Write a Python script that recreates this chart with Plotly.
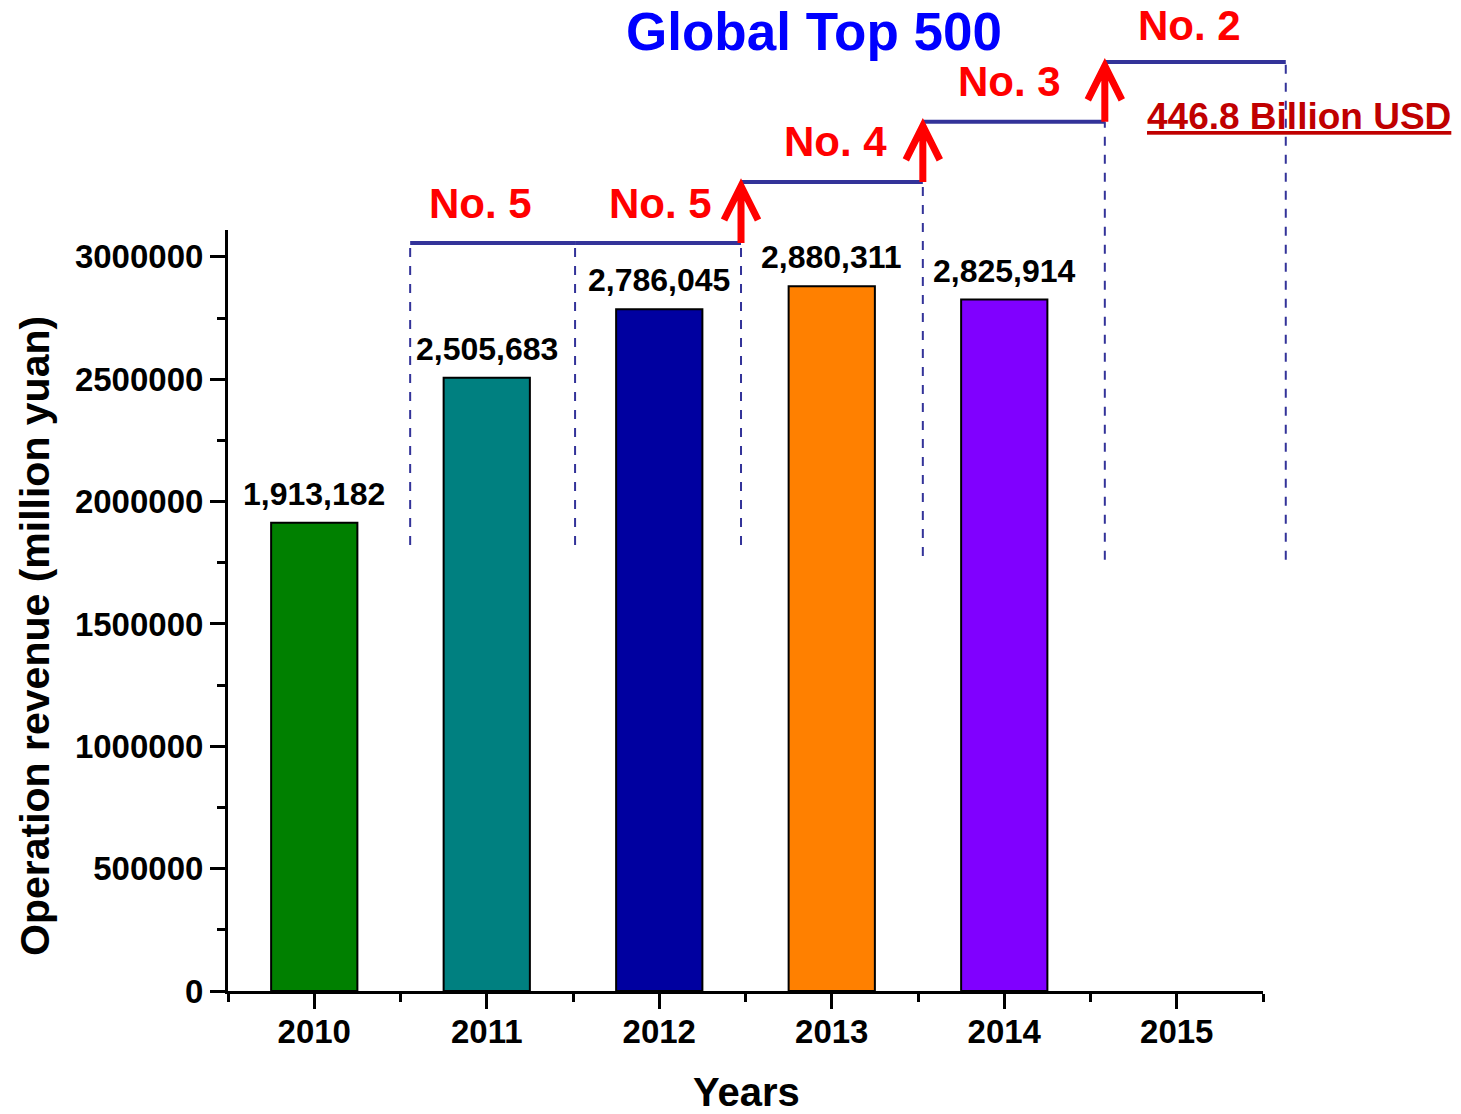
import plotly.graph_objects as go

# ---------------- data ----------------
years = [2010, 2011, 2012, 2013, 2014, 2015]
year_labels = ["2010", "2011", "2012", "2013", "2014", "2015"]
bar_years = [2010, 2011, 2012, 2013, 2014]
revenue = [1913182, 2505683, 2786045, 2880311, 2825914]
bar_colors = ["#008000", "#008080", "#0000A0", "#FF8000", "#8000FF"]
rank_years = [2011, 2012, 2013, 2014, 2015]
rank_labels = ["No. 5", "No. 5", "No. 4", "No. 3", "No. 2"]
y_tickvals = [0, 500000, 1000000, 1500000, 2000000, 2500000, 3000000]
y_ticktext = ["0", "500000", "1000000", "1500000", "2000000", "2500000", "3000000"]
note_text = "446.8 Billion USD"
title_text = "Global Top 500"
x_title = "Years"
y_title = "Operation revenue (million yuan)"

# ---------------- layout constants (positions / styles) ----------------
PAGE_OFF = 8  # default body margin of the html page
W, H = 1461 - PAGE_OFF, 1114 - PAGE_OFF
M_L, M_R, M_T, M_B = 228 - PAGE_OFF, 198, 230 - PAGE_OFF, 123
PLOT_W = W - M_L - M_R
PLOT_H = H - M_T - M_B
X_RANGE = [2009.5, 2015.5]
Y_RANGE = [0, 3110000]
FONT = "Liberation Sans, Arial, sans-serif"
STEP_COLOR = "#333399"
ARROW_COLOR = "#FF0000"

# step (ranking) decoration geometry in data units
seg_bounds = [2010.556, 2011.512, 2012.474, 2013.528, 2014.583, 2015.632]
seg_levels = [3057000, 3057000, 3306000, 3552000, 3797000]
dash_bottoms = [1823000, 1823000, 1823000, 1778000, 1762000, 1762000]
rank_label_x = [2010.962, 2012.010, 2013.019, 2014.032, 2015.075]
rank_label_gap = [14, 14, 15, 15, 11]  # px between segment and label box
note_pos = (2015.71, 3572000)
ARROW_HALF_W = 17   # px
ARROW_HEAD_L = 34   # px
ARROW_LW = 7


def px(x):
    return (x - X_RANGE[0]) / (X_RANGE[1] - X_RANGE[0])


def py(y):
    return (y - Y_RANGE[0]) / (Y_RANGE[1] - Y_RANGE[0])


fig = go.Figure()
fig.add_trace(
    go.Bar(
        x=bar_years,
        y=revenue,
        width=0.5,
        marker=dict(color=bar_colors, line=dict(color="black", width=2)),
        hoverinfo="skip",
    )
)

shapes = []
annotations = []

# value labels above bars
for yr, v in zip(bar_years, revenue):
    annotations.append(
        dict(
            xref="x", yref="y", x=yr, y=v, text=f"{v:,}", showarrow=False,
            xanchor="center", yanchor="bottom", yshift=9,
            font=dict(family=FONT, size=32, color="black", weight="bold"),
        )
    )

# horizontal step segments + rank labels
for i in range(len(rank_years)):
    shapes.append(
        dict(
            type="line", xref="paper", yref="paper",
            x0=px(seg_bounds[i]), x1=px(seg_bounds[i + 1]),
            y0=py(seg_levels[i]), y1=py(seg_levels[i]),
            line=dict(color=STEP_COLOR, width=4),
        )
    )
    annotations.append(
        dict(
            xref="paper", yref="paper",
            x=px(rank_label_x[i]), y=py(seg_levels[i]),
            text=rank_labels[i], showarrow=False,
            xanchor="center", yanchor="bottom", yshift=rank_label_gap[i],
            font=dict(family=FONT, size=42, color="#FF0000", weight="bold"),
        )
    )

# dashed verticals
for k, b in enumerate(seg_bounds):
    top = seg_levels[0] if k == 0 else seg_levels[k - 1]
    shapes.append(
        dict(
            type="line", xref="paper", yref="paper",
            x0=px(b), x1=px(b), y0=py(dash_bottoms[k]), y1=py(top),
            line=dict(color=STEP_COLOR, width=2, dash="dash"),
        )
    )

# red arrows at rank improvements (drawn as paths)
for k in range(1, len(seg_levels)):
    if seg_levels[k] != seg_levels[k - 1]:
        xa = px(seg_bounds[k])
        y_bot = py(seg_levels[k - 1])
        y_tip = py(seg_levels[k]) - 4 / PLOT_H
        dx = ARROW_HALF_W / PLOT_W
        dy = ARROW_HEAD_L / PLOT_H
        path = (
            f"M{xa},{y_bot} L{xa},{y_tip} "
            f"M{xa - dx},{y_tip - dy} L{xa},{y_tip} L{xa + dx},{y_tip - dy}"
        )
        shapes.append(
            dict(
                type="path", xref="paper", yref="paper", path=path,
                line=dict(color=ARROW_COLOR, width=ARROW_LW),
            )
        )

# note
annotations.append(
    dict(
        xref="paper", yref="paper", x=px(note_pos[0]), y=py(note_pos[1]),
        text="<u>" + note_text + "</u>", showarrow=False,
        xanchor="center", yanchor="middle",
        font=dict(family=FONT, size=37, color="#C00000", weight="bold"),
    )
)

# axis titles
annotations.append(
    dict(
        xref="paper", yref="paper",
        x=(35 - 228) / PLOT_W, y=(991 - 636) / PLOT_H,
        text=y_title, textangle=-90, showarrow=False,
        xanchor="center", yanchor="middle",
        font=dict(family=FONT, size=41, color="black", weight="bold"),
    )
)
annotations.append(
    dict(
        xref="paper", yref="paper",
        x=(746 - 228) / PLOT_W, y=(991 - 1092) / PLOT_H,
        text=x_title, showarrow=False,
        xanchor="center", yanchor="middle",
        font=dict(family=FONT, size=40, color="black", weight="bold"),
    )
)

axis_common = dict(
    showline=True, linecolor="black", linewidth=3, mirror=False,
    ticks="outside", ticklen=15, tickwidth=3, tickcolor="black",
    showgrid=False, zeroline=False,
    tickfont=dict(family=FONT, size=33, color="black", weight="bold"),
)

fig.update_layout(
    width=W, height=H,
    margin=dict(l=M_L, r=M_R, t=M_T, b=M_B, autoexpand=False),
    paper_bgcolor="white", plot_bgcolor="white",
    showlegend=False,
    title=dict(
        text=title_text, xref="container", yref="container",
        x=(814 - PAGE_OFF) / W, y=1 - (31 - PAGE_OFF) / H,
        xanchor="center", yanchor="middle",
        font=dict(family=FONT, size=53, color="#0000FF", weight="bold"),
    ),
    xaxis=dict(
        range=X_RANGE, tickmode="array", tickvals=years, ticktext=year_labels,
        minor=dict(tickmode="array", tickvals=[2009.5 + i for i in range(7)],
                   ticks="outside", ticklen=8, tickwidth=3, tickcolor="black"),
        ticklabelstandoff=-6,
        **axis_common,
    ),
    yaxis=dict(
        range=Y_RANGE, tickmode="array", tickvals=y_tickvals, ticktext=y_ticktext,
        minor=dict(tickmode="linear", tick0=0, dtick=250000,
                   ticks="outside", ticklen=8, tickwidth=3, tickcolor="black"),
        ticklabelstandoff=0,
        **axis_common,
    ),
    shapes=shapes,
    annotations=annotations,
)

fig.write_html("out.html")
